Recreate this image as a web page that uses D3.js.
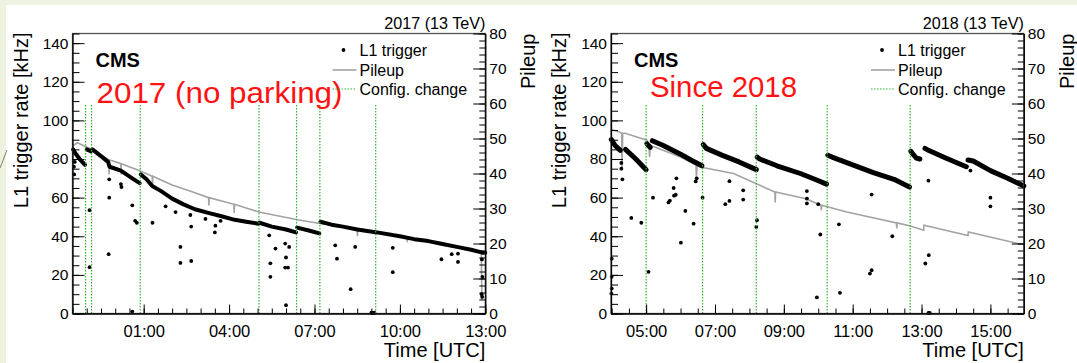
<!DOCTYPE html>
<html>
<head>
<meta charset="utf-8">
<script src="https://cdn.jsdelivr.net/npm/d3@7/dist/d3.min.js"></script>
<style>
  body { margin: 0; background: #eef2e1; }
  svg { display: block; }
  text { font-family: "Liberation Sans", Arial, Helvetica, sans-serif; fill: #000; }
</style>
</head>
<body>
<div id="chart"></div>
<script>
// times are hours after midnight UTC (negative = the evening before)
const titles = ["2017 (13 TeV)", "2018 (13 TeV)"];
const notes = ["2017 (no parking)", "Since 2018"];
const legendLabels = ["L1 trigger", "Pileup", "Config. change"];

const timeRange2017 = [-1.5, 13];
const timeRange2018 = [3.98, 15.97];
const timeTicks2017 = [1, 4, 7, 10, 13];
const timeTicks2018 = [5, 7, 9, 11, 13, 15];
const rateTicks = [0, 20, 40, 60, 80, 100, 120, 140];
const pileupTicks = [0, 10, 20, 30, 40, 50, 60, 70, 80];

const config2017 = [-1.04, -0.83, 0.88, 5.05, 6.37, 7.19, 9.15];
const config2018 = [5.0, 6.64, 8.2, 10.26, 12.67];

// L1 trigger rate [kHz], dense runs between config changes
const l1Runs2017 = [
  [[-1.48, 85], [-1.4, 83], [-1.25, 80], [-1.06, 77]],
  [[-1.0, 85], [-0.86, 84]],
  [[-0.8, 85], [-0.5, 81.5], [-0.25, 78.5], [-0.2, 76], [0.2, 74], [0.25, 73.5], [0.6, 70], [0.86, 67.5]],
  [[0.9, 72], [1.1, 69.5], [1.3, 66], [1.6, 63.5], [2.0, 59.5], [2.4, 56.5], [2.8, 54], [3.3, 52], [3.7, 50.5], [4.2, 48.5], [4.6, 47.5], [5.03, 46.5]],
  [[5.07, 47], [5.5, 45], [6.0, 43.5], [6.35, 42]],
  [[6.39, 44.5], [6.8, 43], [7.17, 41.5]],
  [[7.21, 47.5], [7.6, 46], [8.0, 45], [8.5, 43.5], [9.2, 42], [10.0, 40], [10.5, 38.5], [11.0, 37.5], [11.5, 36], [12.0, 34.5], [12.5, 33], [12.9, 31.5], [13.0, 31.5]]
];
const l1Scatter2017 = [
  [-1.45, 76], [-1.44, 72], [-1.42, 78.5], [-0.9, 53.5], [-0.9, 24], [-0.21, 69.5], [-0.21, 60], [-0.23, 30.7],
  [0.2, 67], [0.22, 65.5], [0.6, 56], [0.7, 48], [0.76, 47], [0.6, 1], [1.31, 47], [1.77, 55.5], [2.12, 52.5],
  [2.29, 34.5], [2.29, 26.2], [2.64, 51], [2.67, 45], [2.67, 27.2], [3.17, 49], [3.5, 42], [3.52, 45.5], [3.7, 48],
  [5.41, 40.5], [5.45, 26], [5.45, 19], [5.63, 33.6], [5.97, 36.2], [6.0, 29], [5.97, 23.8], [6.07, 23.8],
  [6.11, 34.5], [6.0, 4.3], [7.73, 35.3], [7.79, 28.4], [8.43, 34.5], [8.27, 12.6], [9.0, 0.4], [9.05, 0.3],
  [9.1, 0.4], [9.75, 34], [9.75, 21.4], [11.46, 28.1], [11.82, 30.7], [12.04, 26.7], [12.04, 31],
  [12.88, 28], [12.9, 19], [12.87, 10], [12.89, 8.6]
];
// pileup (right axis)
const pileup2017 = [
  [-1.47, 48.0], [-1.33, 48.8], [-1.05, 47.7], [-0.8, 46.9], [-0.22, 43.9], [-0.215, 39.7], [-0.21, 43.9],
  [0.2, 42.8], [0.205, 39.7], [0.21, 42.8], [0.86, 40.8], [1.3, 39.2], [1.31, 36.4], [1.32, 39.2],
  [2.0, 36.7], [2.7, 34.8], [3.28, 33.1], [3.29, 30.9], [3.3, 33.1], [4.17, 31.2], [4.18, 28.7], [4.19, 31.2],
  [5.05, 29.0], [6.4, 26.8], [7.19, 25.7], [7.6, 25.4], [8.5, 24.3], [8.51, 22.1], [8.52, 24.3], [9.15, 23.4],
  [10.25, 21.8], [10.26, 20.4], [10.27, 21.8], [11.5, 19.6], [12.5, 18.2], [12.86, 17.4], [12.88, 3.9]
];

const l1Runs2018 = [
  [[3.99, 90], [4.1, 87], [4.25, 84.5]],
  [[4.4, 85], [4.7, 80], [5.0, 74.5]],
  [[5.02, 88], [5.12, 86]],
  [[5.18, 89.5], [5.5, 87], [6.0, 82.5], [6.3, 79.5], [6.62, 76.5]],
  [[6.66, 87.5], [6.75, 85.5], [7.2, 82], [7.7, 78.5], [8.2, 74.5]],
  [[8.23, 81], [8.3, 80], [8.8, 76.5], [9.48, 72.5], [9.9, 69.5], [10.24, 67]],
  [[10.28, 82], [10.4, 81], [11.0, 77], [11.6, 73], [12.2, 69.5], [12.65, 65.5]],
  [[12.69, 84], [12.75, 82.5], [12.85, 80.5], [12.95, 80]],
  [[13.1, 85.5], [13.2, 84.5], [13.7, 80.5], [14.3, 76]],
  [[14.35, 79.5], [14.5, 79], [15.0, 74], [15.5, 70], [15.97, 66]]
];
const l1Scatter2018 = [
  [4.0, 28.4], [4.0, 19], [4.0, 13], [3.99, 10.3], [4.28, 78], [4.28, 75], [4.31, 69.5], [4.57, 49.5],
  [4.86, 47], [5.07, 21.6], [5.2, 60], [5.65, 57.5], [5.69, 58.5], [5.8, 65], [5.81, 61], [5.86, 61.5],
  [5.88, 70], [6.01, 36.7], [6.14, 53.1], [6.38, 46.5], [6.44, 68.4], [6.47, 70], [6.64, 60], [7.3, 56.6],
  [7.42, 58.3], [7.42, 68.5], [7.82, 63.8], [7.82, 59], [8.2, 44.8], [8.22, 48.3], [9.67, 63.4], [9.67, 59.5],
  [9.67, 57], [9.96, 8.3], [10.0, 56.6], [10.06, 40.9], [10.6, 46.2], [10.63, 10.7], [11.55, 61.6],
  [11.5, 20.7], [11.55, 22.4], [12.15, 40], [13.11, 25.9], [13.21, 30.2], [13.2, 0.3], [13.24, 0.3],
  [13.2, 68.8], [14.42, 74], [15.0, 60], [15.0, 55.5]
];
const pileup2018 = [
  [3.99, 52.4], [4.05, 52.4], [4.2, 51.9], [4.29, 51.5], [4.3, 41.4], [4.32, 51.5], [4.39, 51.5],
  [5.02, 49.5], [5.08, 48.2], [5.1, 44.7], [5.12, 48.0], [5.21, 47.7], [6.0, 44.7], [6.45, 42.4], [6.46, 38.6],
  [6.48, 42.2], [6.64, 41.7], [7.54, 40.0], [8.74, 34.7], [8.75, 31.7], [8.76, 34.7], [9.64, 32.8],
  [10.08, 30.9], [10.09, 29.5], [10.1, 30.9], [10.83, 29.0], [12.27, 25.9], [12.28, 24.3], [12.29, 25.9],
  [12.67, 25.0], [13.06, 23.8], [13.07, 25.2], [14.35, 22.3], [14.36, 23.3], [15.8, 20.0], [15.97, 19.8]
];

const width = 1077, height = 363;
const plotTop = 33.5, plotBottom = 313.5, plotW = 412.8;
const rateMax = 145, pileupMax = 80;

const svg = d3.select("#chart").append("svg")
  .attr("width", width)
  .attr("height", height);

svg.append("rect").attr("width", width).attr("height", height).attr("fill", "#eef2e1");
svg.append("rect").attr("x", 6).attr("y", 5).attr("width", width - 6).attr("height", height - 5).attr("fill", "#fff");
svg.append("line").attr("x1", 0).attr("y1", 168).attr("x2", 7).attr("y2", 150)
  .attr("stroke", "#7d8566").attr("stroke-width", 1);

const pad2 = d3.format("02d");
function hhmm(h) {
  let m = Math.round((((h % 24) + 24) % 24) * 60);
  return pad2(Math.floor(m / 60)) + ":" + pad2(m % 60);
}

function drawPanel(left, p) {
  const g = svg.append("g");
  const x = d3.scaleLinear().domain(p.range).range([left, left + plotW]);
  const y = d3.scaleLinear().domain([0, rateMax]).range([plotBottom, plotTop]);
  const yPU = d3.scaleLinear().domain([0, pileupMax]).range([plotBottom, plotTop]);

  // pileup line
  g.append("path")
    .datum(p.pileup)
    .attr("fill", "none")
    .attr("stroke", "#a3a3a3")
    .attr("stroke-width", 1.6)
    .attr("d", d3.line().x(d => x(d[0])).y(d => yPU(d[1])));

  // L1 rate: dense runs + isolated points
  const line = d3.line().x(d => x(d[0])).y(d => y(d[1]));
  g.selectAll(".run").data(p.runs).enter().append("path")
    .attr("class", "run")
    .attr("fill", "none")
    .attr("stroke", "#000")
    .attr("stroke-width", p.band)
    .attr("stroke-linecap", "round")
    .attr("stroke-linejoin", "round")
    .attr("d", line);
  g.selectAll(".pt").data(p.scatter).enter().append("circle")
    .attr("class", "pt")
    .attr("cx", d => x(d[0]))
    .attr("cy", d => y(d[1]))
    .attr("r", 1.9)
    .attr("fill", "#000");

  // config changes
  g.selectAll(".cfg").data(p.config).enter().append("line")
    .attr("class", "cfg")
    .attr("x1", d => x(d)).attr("x2", d => x(d))
    .attr("y1", y(0)).attr("y2", y(108))
    .attr("stroke", "#2fb52f")
    .attr("stroke-width", 1.2)
    .attr("stroke-dasharray", "1.5,1.5");

  // frame
  g.append("rect")
    .attr("x", left).attr("y", plotTop)
    .attr("width", plotW).attr("height", plotBottom - plotTop)
    .attr("fill", "none").attr("stroke", "#555").attr("stroke-width", 1.3);

  const half = d3.range(Math.ceil(p.range[0] * 2) / 2, p.range[1] + 0.001, 0.5);

  // x axis
  g.append("g").attr("transform", `translate(0,${plotBottom})`)
    .call(d3.axisBottom(x).tickValues(half).tickSizeInner(-5).tickSizeOuter(0).tickFormat(""))
    .call(a => a.select(".domain").remove());
  g.append("g").attr("transform", `translate(0,${plotBottom})`)
    .call(d3.axisBottom(x).tickValues(p.ticks).tickSizeInner(-9).tickSizeOuter(0).tickPadding(12).tickFormat(hhmm))
    .call(a => a.select(".domain").attr("stroke", "#000").attr("stroke-width", 1.3))
    .call(a => a.selectAll("text").attr("font-size", "16.5px"));

  // left axis
  g.append("g").attr("transform", `translate(${left},0)`)
    .call(d3.axisLeft(y).tickValues(d3.range(0, 146, 5)).tickSizeInner(-7).tickSizeOuter(0).tickFormat(""))
    .call(a => a.select(".domain").remove());
  g.append("g").attr("transform", `translate(${left},0)`)
    .call(d3.axisLeft(y).tickValues(rateTicks).tickSizeInner(-12).tickSizeOuter(0).tickPadding(4))
    .call(a => a.select(".domain").attr("stroke", "#000").attr("stroke-width", 1.3))
    .call(a => a.selectAll("text").attr("font-size", "15.5px"));

  // right axis
  g.append("g").attr("transform", `translate(${left + plotW},0)`)
    .call(d3.axisRight(yPU).tickValues(d3.range(0, 81, 2)).tickSizeInner(-6).tickSizeOuter(0).tickFormat(""))
    .call(a => a.select(".domain").remove());
  g.append("g").attr("transform", `translate(${left + plotW},0)`)
    .call(d3.axisRight(yPU).tickValues(pileupTicks).tickSizeInner(-12).tickSizeOuter(0).tickPadding(4))
    .call(a => a.select(".domain").attr("stroke", "#000").attr("stroke-width", 1.3))
    .call(a => a.selectAll("text").attr("font-size", "15.5px"));
  g.selectAll(".tick line").attr("stroke", "#000");

  // axis titles
  g.append("text")
    .attr("transform", `translate(${left - 45},${plotTop - 1}) rotate(-90)`)
    .attr("text-anchor", "end")
    .attr("font-size", "20px")
    .text("L1 trigger rate [kHz]");
  g.append("text")
    .attr("transform", `translate(${left + plotW + 50},${plotTop}) rotate(-90)`)
    .attr("text-anchor", "end")
    .attr("font-size", "20px")
    .text("Pileup");
  g.append("text")
    .attr("x", left + plotW).attr("y", 357)
    .attr("text-anchor", "end")
    .attr("font-size", "20px")
    .text("Time [UTC]");
  g.append("text")
    .attr("x", left + plotW).attr("y", 29)
    .attr("text-anchor", "end")
    .attr("font-size", "17px")
    .attr("textLength", 101)
    .attr("lengthAdjust", "spacingAndGlyphs")
    .text(p.title);
  g.append("text")
    .attr("x", left + 23).attr("y", 67)
    .attr("font-size", "20px")
    .attr("font-weight", "bold")
    .text("CMS");
  g.append("text")
    .attr("x", left + p.noteX).attr("y", p.noteY)
    .attr("font-family", "Lato, 'Open Sans', sans-serif")
    .attr("font-weight", 300)
    .attr("font-size", "29px")
    .style("fill", "#ff1212")
    .attr("textLength", p.noteW)
    .attr("lengthAdjust", "spacingAndGlyphs")
    .text(p.note);

  // legend
  const lx = left + 271, rows = [50, 70, 89];
  g.append("circle").attr("cx", lx).attr("cy", rows[0]).attr("r", 1.9).attr("fill", "#000");
  g.append("line").attr("x1", lx - 11).attr("x2", lx + 13).attr("y1", rows[1]).attr("y2", rows[1])
    .attr("stroke", "#a3a3a3").attr("stroke-width", 1.6);
  g.append("line").attr("x1", lx - 11).attr("x2", lx + 13).attr("y1", rows[2]).attr("y2", rows[2])
    .attr("stroke", "#2fb52f").attr("stroke-width", 1.2).attr("stroke-dasharray", "1.5,1.5");
  g.selectAll(".leg").data(legendLabels).enter().append("text")
    .attr("x", lx + 16)
    .attr("y", (d, i) => rows[i])
    .attr("dy", "0.35em")
    .attr("font-size", "16px")
    .text(d => d);
}

drawPanel(72.5, {
  range: timeRange2017, ticks: timeTicks2017, config: config2017,
  runs: l1Runs2017, scatter: l1Scatter2017, pileup: pileup2017, band: 4,
  title: titles[0], note: notes[0], noteX: 24, noteY: 103, noteW: 246
});
drawPanel(611, {
  range: timeRange2018, ticks: timeTicks2018, config: config2018,
  runs: l1Runs2018, scatter: l1Scatter2018, pileup: pileup2018, band: 5,
  title: titles[1], note: notes[1], noteX: 39, noteY: 97, noteW: 147
});
</script>
</body>
</html>
